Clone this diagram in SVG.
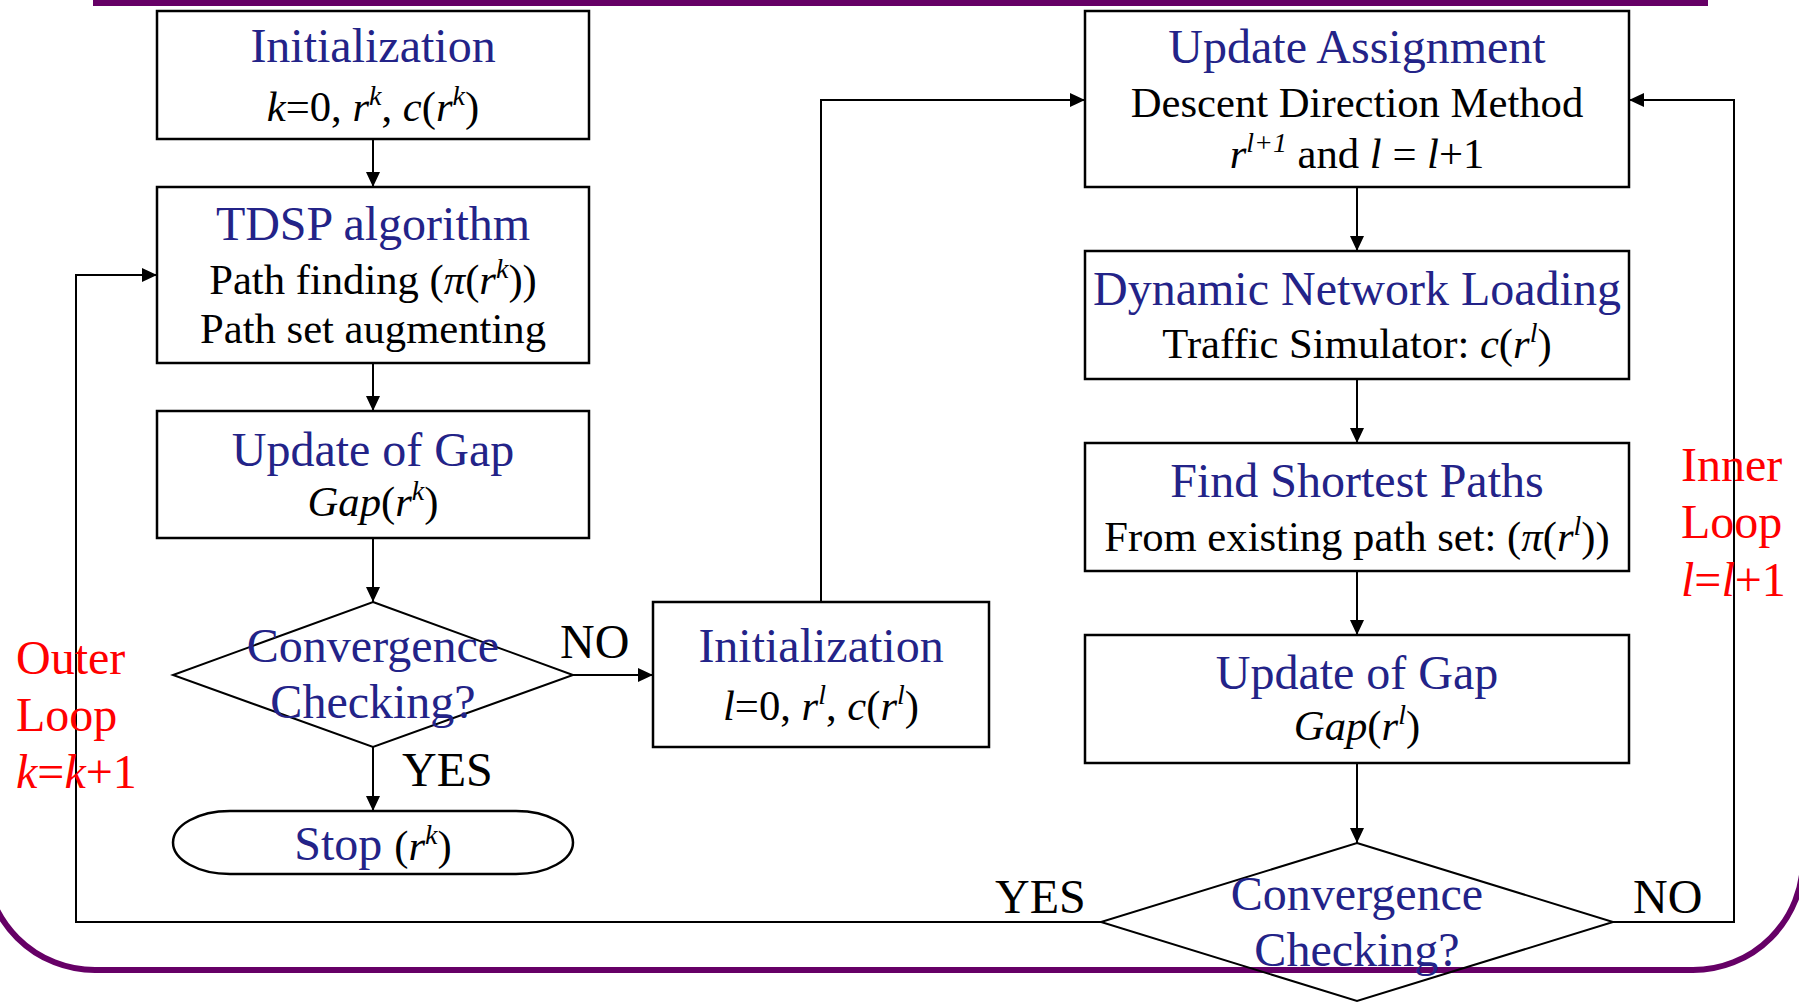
<svg xmlns="http://www.w3.org/2000/svg" width="1799" height="1003" viewBox="0 0 1799 1003">
<style>
text{font-family:"Liberation Serif","Times New Roman",serif;}
.box{fill:none;stroke:#000;stroke-width:2.5;}
.dia{fill:none;stroke:#000;stroke-width:2;}
.ttl{font-size:48px;fill:#232388;text-anchor:middle;}
.body{font-size:42.67px;fill:#000;text-anchor:middle;}
.lbl{font-size:48px;fill:#000;}
.red{font-size:48px;fill:#ff0000;}
.i{font-style:italic;}
.sup{font-size:28px;font-style:italic;}
.con{fill:none;stroke:#000;stroke-width:2;}
</style>
<defs>
<marker id="ah" markerUnits="userSpaceOnUse" markerWidth="15" markerHeight="14" refX="15" refY="7" orient="auto">
<path d="M0,0 L15,7 L0,14 z" fill="#000"/>
</marker>
</defs>
<rect width="1799" height="1003" fill="#fff"/>
<g id="frame">
<rect x="93" y="0" width="1615" height="6" fill="#660066"/>
<path d="M-15,700 V860 A110,110 0 0 0 95,970 H1693 A110,110 0 0 0 1803,860 V700" fill="none" stroke="#660066" stroke-width="6"/>
</g>
<g id="connectors">
<path class="con" d="M373,139 V187" marker-end="url(#ah)"/>
<path class="con" d="M373,363 V411" marker-end="url(#ah)"/>
<path class="con" d="M373,538 V602" marker-end="url(#ah)"/>
<path class="con" d="M573,675 H653" marker-end="url(#ah)"/>
<path class="con" d="M373,747 V811" marker-end="url(#ah)"/>
<path class="con" d="M1101,922 H76 V275 H157" marker-end="url(#ah)"/>
<path class="con" d="M821,602 V100 H1085" marker-end="url(#ah)"/>
<path class="con" d="M1357,187 V251" marker-end="url(#ah)"/>
<path class="con" d="M1357,379 V443" marker-end="url(#ah)"/>
<path class="con" d="M1357,571 V635" marker-end="url(#ah)"/>
<path class="con" d="M1357,763 V843" marker-end="url(#ah)"/>
<path class="con" d="M1613,922 H1734 V100 H1629" marker-end="url(#ah)"/>
</g>
<g id="init-outer">
<rect class="box" x="157" y="11" width="432" height="128"/>
<text class="ttl" x="373" y="62">Initialization</text>
<text class="body" x="373" y="121"><tspan class="i">k</tspan>=0, <tspan class="i">r</tspan><tspan class="sup" dy="-16">k</tspan><tspan dy="16">, </tspan><tspan class="i">c</tspan>(<tspan class="i">r</tspan><tspan class="sup" dy="-16">k</tspan><tspan dy="16">)</tspan></text>
</g>
<g id="tdsp">
<rect class="box" x="157" y="187" width="432" height="176"/>
<text class="ttl" x="373" y="240">TDSP algorithm</text>
<text class="body" x="373" y="294">Path finding (<tspan class="i">π</tspan>(<tspan class="i">r</tspan><tspan class="sup" dy="-16">k</tspan><tspan dy="16">))</tspan></text>
<text class="body" x="373" y="343">Path set augmenting</text>
</g>
<g id="gap-outer">
<rect class="box" x="157" y="411" width="432" height="127"/>
<text class="ttl" x="373" y="466">Update of Gap</text>
<text class="body" x="373" y="516"><tspan class="i">Gap</tspan>(<tspan class="i">r</tspan><tspan class="sup" dy="-16">k</tspan><tspan dy="16">)</tspan></text>
</g>
<g id="conv-outer">
<polygon class="dia" points="373,602 573,675 373,747 173,675"/>
<text class="ttl" x="373" y="662">Convergence</text>
<text class="ttl" x="373" y="718">Checking?</text>
<text class="lbl" x="560" y="658">NO</text>
<text class="lbl" x="402" y="786">YES</text>
</g>
<g id="stop">
<rect class="box" x="173" y="811" width="400" height="63" rx="57" ry="31.5"/>
<text x="373" y="860" text-anchor="middle"><tspan font-size="48" fill="#232388">Stop </tspan><tspan font-size="42.67">(</tspan><tspan font-size="42.67" class="i">r</tspan><tspan class="sup" dy="-16">k</tspan><tspan font-size="42.67" dy="16">)</tspan></text>
</g>
<g id="init-inner">
<rect class="box" x="653" y="602" width="336" height="145"/>
<text class="ttl" x="821" y="662">Initialization</text>
<text class="body" x="821" y="720"><tspan class="i">l</tspan>=0, <tspan class="i">r</tspan><tspan class="sup" dy="-16">l</tspan><tspan dy="16">, </tspan><tspan class="i">c</tspan>(<tspan class="i">r</tspan><tspan class="sup" dy="-16">l</tspan><tspan dy="16">)</tspan></text>
</g>
<g id="update-assignment">
<rect class="box" x="1085" y="11" width="544" height="176"/>
<text class="ttl" x="1357" y="63">Update Assignment</text>
<text class="body" x="1357" y="117">Descent Direction Method</text>
<text class="body" x="1357" y="168"><tspan class="i">r</tspan><tspan class="sup" dy="-16">l+1</tspan><tspan dy="16"> and </tspan><tspan class="i">l</tspan> = <tspan class="i">l</tspan>+1</text>
</g>
<g id="dnl">
<rect class="box" x="1085" y="251" width="544" height="128"/>
<text class="ttl" x="1357" y="305">Dynamic Network Loading</text>
<text class="body" x="1357" y="358">Traffic Simulator: <tspan class="i">c</tspan>(<tspan class="i">r</tspan><tspan class="sup" dy="-16">l</tspan><tspan dy="16">)</tspan></text>
</g>
<g id="fsp">
<rect class="box" x="1085" y="443" width="544" height="128"/>
<text class="ttl" x="1357" y="497">Find Shortest Paths</text>
<text class="body" x="1357" y="551">From existing path set: (<tspan class="i">π</tspan>(<tspan class="i">r</tspan><tspan class="sup" dy="-16">l</tspan><tspan dy="16">))</tspan></text>
</g>
<g id="gap-inner">
<rect class="box" x="1085" y="635" width="544" height="128"/>
<text class="ttl" x="1357" y="689">Update of Gap</text>
<text class="body" x="1357" y="740"><tspan class="i">Gap</tspan>(<tspan class="i">r</tspan><tspan class="sup" dy="-16">l</tspan><tspan dy="16">)</tspan></text>
</g>
<g id="conv-inner">
<polygon class="dia" points="1357,843 1613,922 1357,1001 1101,922"/>
<text class="ttl" x="1357" y="910">Convergence</text>
<text class="ttl" x="1357" y="966">Checking?</text>
<text class="lbl" x="995" y="913">YES</text>
<text class="lbl" x="1633" y="913">NO</text>
</g>
<g id="outer-label">
<text class="red" x="16" y="674">Outer</text>
<text class="red" x="16" y="731">Loop</text>
<text class="red" x="16" y="788"><tspan class="i">k</tspan>=<tspan class="i">k</tspan>+1</text>
</g>
<g id="inner-label">
<text class="red" x="1681" y="481">Inner</text>
<text class="red" x="1681" y="538">Loop</text>
<text class="red" x="1681" y="596"><tspan class="i">l</tspan>=<tspan class="i">l</tspan>+1</text>
</g>
</svg>
